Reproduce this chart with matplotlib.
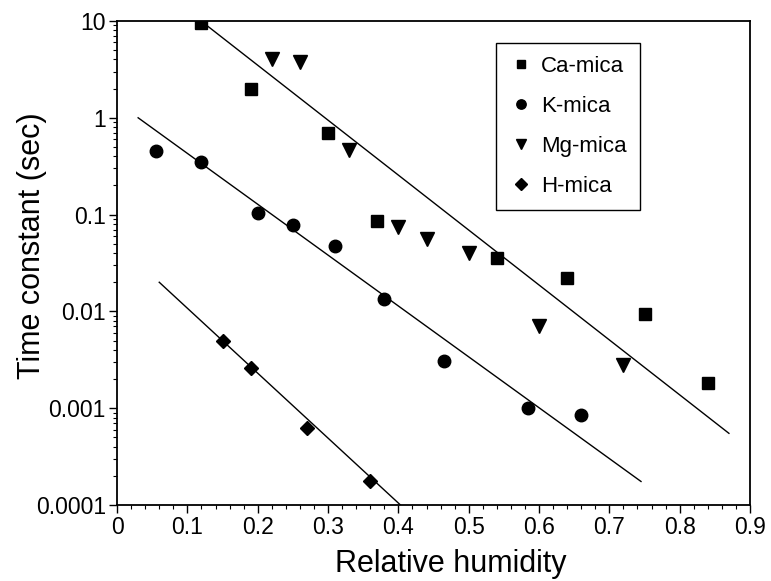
import matplotlib
matplotlib.use("Agg")
import matplotlib.pyplot as plt
from matplotlib.ticker import FixedLocator, MultipleLocator, LogLocator, NullFormatter

plt.rcParams['font.family'] = ['Liberation Sans', 'DejaVu Sans']

# Datos
ca_x = [0.12, 0.19, 0.30, 0.37, 0.54, 0.64, 0.75, 0.84]
ca_y = [9.5, 2.0, 0.70, 0.085, 0.036, 0.022, 0.0095, 0.0018]

k_x = [0.055, 0.12, 0.20, 0.25, 0.31, 0.38, 0.465, 0.585, 0.66]
k_y = [0.45, 0.35, 0.105, 0.078, 0.047, 0.0135, 0.0031, 0.0010, 0.00085]

mg_x = [0.22, 0.26, 0.33, 0.40, 0.44, 0.50, 0.60, 0.72]
mg_y = [4.0, 3.8, 0.46, 0.075, 0.056, 0.040, 0.0070, 0.0028]

h_x = [0.15, 0.19, 0.27, 0.36]
h_y = [0.0050, 0.0026, 0.00063, 0.000175]

# Rectas de ajuste (extremos)
ca_fit_x = [0.125, 0.87]
ca_fit_y = [9.3, 0.00055]
k_fit_x = [0.03, 0.745]
k_fit_y = [1.0, 0.000175]
h_fit_x = [0.06, 0.403]
h_fit_y = [0.02, 0.0001]

y_ticks = [0.0001, 0.001, 0.01, 0.1, 1, 10]
y_labels = ['0.0001', '0.001', '0.01', '0.1', '1', '10']
x_ticks = [0, 0.1, 0.2, 0.3, 0.4, 0.5, 0.6, 0.7, 0.8, 0.9]
x_labels = ['0', '0.1', '0.2', '0.3', '0.4', '0.5', '0.6', '0.7', '0.8', '0.9']

fig = plt.figure(figsize=(7.71, 5.81), dpi=100)
ax = fig.add_axes([0.1518, 0.1308, 0.821, 0.8331])

ax.plot(ca_fit_x, ca_fit_y, color='black', lw=1)
ax.plot(k_fit_x, k_fit_y, color='black', lw=1)
ax.plot(h_fit_x, h_fit_y, color='black', lw=1)

ax.plot(ca_x, ca_y, 's', color='black', ms=8.5, ls='none', label='Ca-mica')
ax.plot(k_x, k_y, 'o', color='black', ms=9, ls='none', label='K-mica')
ax.plot(mg_x, mg_y, 'v', color='black', ms=10.5, ls='none', label='Mg-mica')
ax.plot(h_x, h_y, 'D', color='black', ms=7.5, ls='none', label='H-mica')

ax.set_yscale('log')
ax.set_xlim(0, 0.9)
ax.set_ylim(0.0001, 10)

ax.yaxis.set_major_locator(FixedLocator(y_ticks))
ax.set_yticklabels(y_labels)
ax.yaxis.set_minor_locator(LogLocator(base=10, subs=range(2, 10)))
ax.yaxis.set_minor_formatter(NullFormatter())
ax.set_xticks(x_ticks)
ax.set_xticklabels(x_labels)
ax.xaxis.set_minor_locator(MultipleLocator(0.02))

ax.tick_params(which='major', direction='out', length=6, width=1, labelsize=16.5, pad=2)
ax.tick_params(which='minor', direction='out', length=3, width=0.8)
for s in ax.spines.values():
    s.set_linewidth(1.3)

ax.set_xlabel('Relative humidity', fontsize=22)
ax.set_ylabel('Time constant (sec)', fontsize=22)
ax.xaxis.set_label_coords(0.527, -0.09)
ax.yaxis.set_label_coords(-0.11, 0.535)

leg = ax.legend(loc='upper left', bbox_to_anchor=(0.599, 0.955), fontsize=16,
                frameon=True, fancybox=False, edgecolor='black', framealpha=1,
                handletextpad=0.4, labelspacing=0.85, borderpad=0.6,
                handlelength=1.0, markerscale=0.75, borderaxespad=0)
leg.get_frame().set_linewidth(1)

fig.savefig('out.png', dpi=100)
